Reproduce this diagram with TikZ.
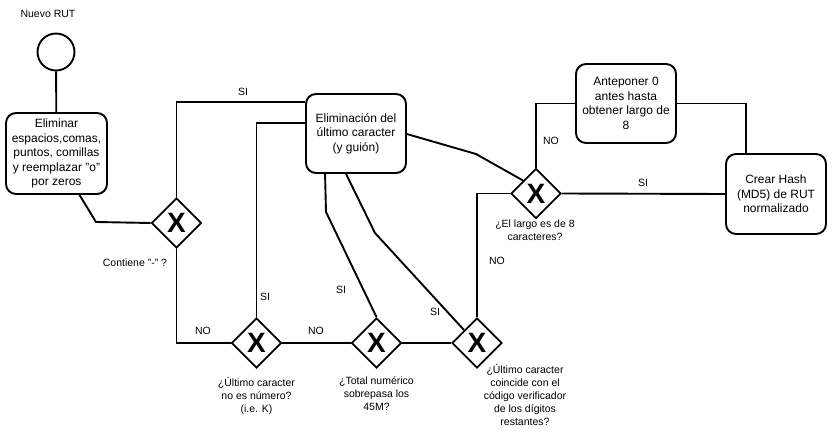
\documentclass[tikz,border=0pt]{standalone}
\usepackage{fontspec}
\setmainfont{Liberation Sans}
\usetikzlibrary{shapes.geometric,calc}
\begin{document}
\begin{tikzpicture}[x=1pt,y=-1pt,
  conn/.style={line width=1.9pt},
  procbox/.style={draw,line width=1.9pt,rounded corners=10pt,minimum width=100pt,minimum height=79pt,inner sep=1pt,align=center,font=\fontsize{12}{14.5}\selectfont},
  gate/.style={draw,diamond,line width=1.9pt,minimum width=50pt,minimum height=50pt,inner sep=0pt,font=\fontsize{28}{28}\selectfont\bfseries},
  lbl/.style={font=\fontsize{10.5}{13}\selectfont,align=center,inner sep=0pt}]
\useasboundingbox (0,0) rectangle (832,435);

% nodes
\node[draw,circle,line width=1.9pt,minimum size=37pt,inner sep=0pt] (start) at (56,52) {};
\node[lbl] (tstart) at (48,14) {Nuevo RUT};
\node[procbox,minimum width=101pt,minimum height=81pt] (b1) at (56.5,153.5) {Eliminar\\espacios,comas,\\puntos, comillas\\y reemplazar "o"\\por zeros};
\node[procbox] (b2) at (356,133.5) {Eliminación del\\último caracter\\(y guión)};
\node[procbox] (b3) at (626,103.5) {Anteponer 0\\antes hasta\\obtener largo de\\8};
\node[procbox,minimum height=80pt] (b4) at (776,194) {Crear Hash\\(MD5) de RUT\\normalizado};

\node[gate] (d1) at (176.5,223) {X};
\node[gate] (d2) at (256.5,343) {X};
\node[gate] (d3) at (376.5,343) {X};
\node[gate] (d4) at (477,343) {X};
\node[gate] (d5) at (536,193.5) {X};

% bend points
\coordinate (k1) at (96,222);
\coordinate (k2) at (326,212);
\coordinate (k3) at (375,233);
\coordinate (k4) at (476,154);

% connectors
\draw[conn] (start) -- (b1);
\draw[conn] ($(b1.south)+(23,0)$) -- (k1) -- (d1.west);
\draw[conn] (d1.north) |- ($(b2.north west)+(0,9)$);
\draw[conn] (d1.south) |- (d2.west);
\draw[conn] (d2.north) |- ($(b2.north west)+(0,30)$);
\draw[conn] (d2.east) -- (d3.west);
\draw[conn] (d3.east) -- (d4.west);
\draw[conn] ($(b2.south west)+(20,0)$) -- (k2) -- (d3.north);
\draw[conn] ($(b2.south west)+(41,0)$) -- (k3) -- (d4.north west);
\draw[conn] ($(b2.north east)+(0,41)$) -- (k4) -- (d5.north west);
\draw[conn] (d4.north) |- (d5.west);
\draw[conn] (d5.north) |- (b3.west);
\draw[conn] (b3.east) -| ($(b4.north)+(-30,0)$);
\draw[conn] (d5.east) -- (b4.west);

% labels
\node[lbl] at (243,92) {SI};
\node[lbl] at (135,263) {Contiene "-" ?};
\node[lbl] at (203,331) {NO};
\node[lbl] at (265,297) {SI};
\node[lbl] at (316,331) {NO};
\node[lbl] at (341,290) {SI};
\node[lbl] at (435,312) {SI};
\node[lbl] at (497,261) {NO};
\node[lbl] at (551,141) {NO};
\node[lbl] at (643,183) {SI};

\node[lbl,anchor=north] at (256.5,377) {¿Último caracter\\no es número?\\(i.e. K)};
\node[lbl,anchor=north] at (376.5,377) {¿Total numérico\\sobrepasa los\\45M?};
\node[lbl,anchor=north] at (525,364) {¿Último caracter\\coincide con el\\código verificador\\de los dígitos\\restantes?};
\node[lbl,anchor=north] at (535,220) {¿El largo es de 8\\caracteres?};
\end{tikzpicture}
\end{document}
